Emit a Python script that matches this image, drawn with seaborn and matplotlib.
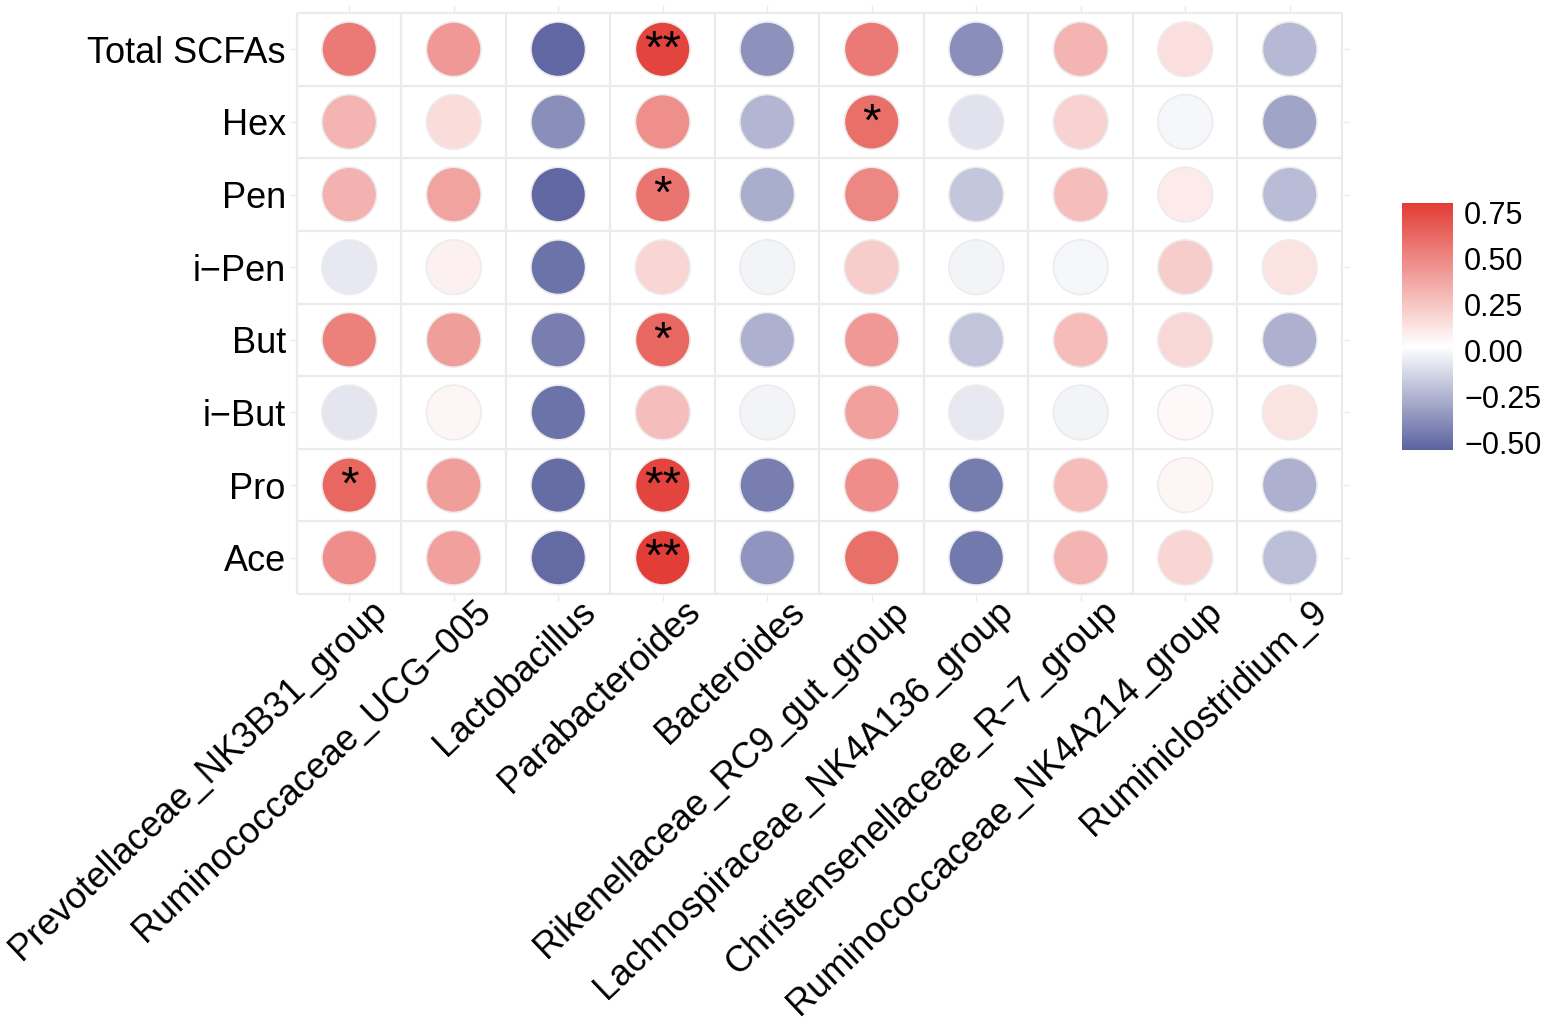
import numpy as np
import pandas as pd
import matplotlib
matplotlib.use("Agg")
import matplotlib.pyplot as plt
import matplotlib.transforms as mtransforms
from matplotlib.colors import LinearSegmentedColormap, Normalize
from matplotlib.cm import ScalarMappable
import seaborn as sns

# Genera (x-axis) and SCFAs (y-axis, top to bottom)
genera = [
    "Prevotellaceae_NK3B31_group", "Ruminococcaceae_UCG\u2212005", "Lactobacillus",
    "Parabacteroides", "Bacteroides", "Rikenellaceae_RC9_gut_group",
    "Lachnospiraceae_NK4A136_group", "Christensenellaceae_R\u22127_group",
    "Ruminococcaceae_NK4A214_group", "Ruminiclostridium_9",
]
scfas = ["Total SCFAs", "Hex", "Pen", "i\u2212Pen", "But", "i\u2212But", "Pro", "Ace"]

# correlation values (one list per SCFA, in genera order)
r_total = [0.55, 0.43, -0.52, 0.77, -0.37, 0.55, -0.38, 0.32, 0.15, -0.23]
r_hex = [0.32, 0.16, -0.38, 0.47, -0.24, 0.60, -0.08, 0.20, -0.01, -0.30]
r_pen = [0.33, 0.39, -0.52, 0.58, -0.27, 0.50, -0.18, 0.28, 0.10, -0.22]
r_ipen = [-0.06, 0.08, -0.48, 0.19, -0.02, 0.22, -0.02, -0.01, 0.22, 0.13]
r_but = [0.53, 0.41, -0.44, 0.63, -0.26, 0.43, -0.19, 0.29, 0.18, -0.26]
r_ibut = [-0.07, 0.06, -0.48, 0.28, -0.02, 0.40, -0.06, -0.02, 0.05, 0.13]
r_pro = [0.63, 0.41, -0.50, 0.77, -0.44, 0.48, -0.45, 0.29, 0.06, -0.26]
r_ace = [0.48, 0.40, -0.51, 0.80, -0.36, 0.60, -0.46, 0.32, 0.19, -0.21]

# significance marks (SCFA, genus, label)
sig_marks = [
    ("Total SCFAs", "Parabacteroides", "**"),
    ("Hex", "Rikenellaceae_RC9_gut_group", "*"),
    ("Pen", "Parabacteroides", "*"),
    ("But", "Parabacteroides", "*"),
    ("Pro", "Prevotellaceae_NK3B31_group", "*"),
    ("Pro", "Parabacteroides", "**"),
    ("Ace", "Parabacteroides", "**"),
]

cbar_ticks = [-0.50, -0.25, 0.00, 0.25, 0.50, 0.75]
vmin, vmax = -0.54, 0.80

rows = [r_total, r_hex, r_pen, r_ipen, r_but, r_ibut, r_pro, r_ace]
df = pd.DataFrame(
    [(g, s, v) for s, vals in zip(scfas, rows) for g, v in zip(genera, vals)],
    columns=["genus", "scfa", "r"],
)
df["genus"] = pd.Categorical(df["genus"], categories=genera, ordered=True)
df["scfa"] = pd.Categorical(df["scfa"], categories=scfas, ordered=True)
df["gx"] = df["genus"].cat.codes
df["sy"] = df["scfa"].cat.codes

sns.set_style("white")
plt.rcParams["font.family"] = ["Liberation Sans", "DejaVu Sans"]

mid = 0.02
cmap = LinearSegmentedColormap.from_list(
    "rb",
    [(0.0, "#5B639F"), ((mid - vmin) / (vmax - vmin), "#FFFFFF"), (1.0, "#E23D36")],
)
norm = Normalize(vmin=vmin, vmax=vmax)

fig = plt.figure(figsize=(15.48, 10.25), dpi=100)
ax = fig.add_axes([290 / 1548, 1 - 601 / 1025, 1060 / 1548, 596 / 1025])

nx, ny = len(genera), len(scfas)

# tile borders
ax.hlines(np.arange(ny + 1) - 0.5, -0.5, nx - 0.5, color="#EBEBEB", lw=1.6, zorder=1)
ax.vlines(np.arange(nx + 1) - 0.5, -0.5, ny - 0.5, color="#EBEBEB", lw=1.6, zorder=1)

sns.scatterplot(
    data=df, x="gx", y="sy", hue="r", palette=cmap, hue_norm=norm,
    s=1550, edgecolor="#ECECEC", linewidth=1.2, legend=False, ax=ax, zorder=3,
)
ax.set_xlim(-0.567, nx - 1 + 0.577)
ax.set_ylim(ny - 1 + 0.596, -0.61)

for s, g, lab in sig_marks:
    ax.text(genera.index(g), scfas.index(s) + 0.02, lab, ha="center", va="center",
            fontsize=34, color="black", zorder=4)

ax.set_xticks(range(nx))
ax.set_yticks(range(ny))
ax.set_yticklabels(scfas, fontsize=26, color="black")
ax.set_xticklabels([])

# rotated genus labels, anchored a little right of each tick (as ggplot does)
label_trans = mtransforms.blended_transform_factory(ax.transData, ax.transAxes) + \
    mtransforms.ScaledTranslation(20 / 100, 7 / 100, fig.dpi_scale_trans)
for i, g in enumerate(genera):
    ax.text(i, 0, g, transform=label_trans, fontsize=26, color="black", rotation=43.5,
            ha="right", va="top", rotation_mode="anchor", clip_on=False)

ax.tick_params(axis="both", which="major", direction="in", length=5, width=1,
               color="#EBEBEB", top=True, right=True, bottom=True, left=True)
ax.tick_params(axis="y", pad=3)
ax.set_xlabel("")
ax.set_ylabel("")
for sp in ax.spines.values():
    sp.set_visible(False)

# colour bar
cax = fig.add_axes([1402 / 1548, 1 - 450 / 1025, 51 / 1548, 247 / 1025])
cb = fig.colorbar(ScalarMappable(norm=norm, cmap=cmap), cax=cax, ticks=cbar_ticks)
cb.outline.set_visible(False)
cb.ax.set_yticklabels([f"{t:.2f}".replace("-", "\u2212") for t in cbar_ticks])
cb.ax.tick_params(direction="in", length=9, width=1, color="white", left=True,
                  right=True, labelsize=22, labelcolor="black", pad=8)

fig.savefig("out.png", dpi=100)
